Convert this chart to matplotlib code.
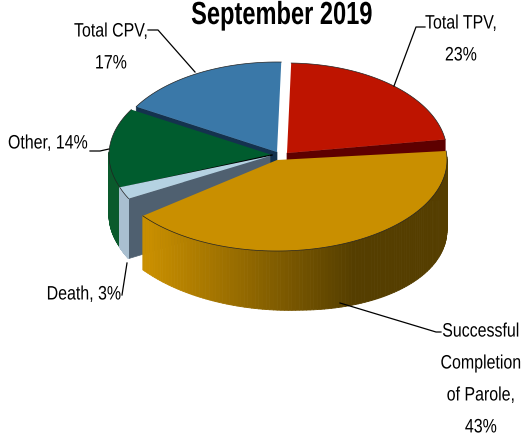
import numpy as np
import matplotlib
matplotlib.use('Agg')
import matplotlib.pyplot as plt
from matplotlib.collections import PolyCollection
from matplotlib.colors import to_rgb
from matplotlib.patheffects import AbstractPathEffect
from matplotlib.transforms import Affine2D

plt.rcParams['font.family'] = ['Liberation Sans', 'DejaVu Sans']

names = ['Total TPV', 'Successful Completion of Parole', 'Death', 'Other', 'Total CPV']
values = [23, 43, 3, 14, 17]

# look of each slice, same order as names
top_colors = ['#BE1400', '#C98F00', '#B5D2E2', '#005C2E', '#3A78A8']
side_colors = ['#8A0E00', '#C98F00', '#A9BFD0', '#0A5A2C', '#2A5A80']
face_colors = ['#5E0000', '#5E4300', '#4F6070', '#003018', '#14324E']
centers = [(287, 153), (277, 160), (270, 156), (272, 155), (277, 152)]
radii = [(160, 90), (170, 91), (160, 91), (163, 90), (163, 90)]
trim_start = [0, 0, 3, -1.5, 0]
trim_end = [3, 7, 0, 0, 0]
show_start_face = [False, False, True, False, True]
show_end_face = [True, False, False, False, False]
draw_order = [4, 0, 3, 2, 1]
depth = 60
start_angle = 88.5


class Squeeze(AbstractPathEffect):
    # narrows the glyphs, no condensed font is installed
    def __init__(self, x0, sx, dx=0):
        super().__init__()
        self.x0, self.sx, self.dx = x0, sx, dx

    def draw_path(self, renderer, gc, tpath, affine, rgbFace=None):
        squeeze = Affine2D().translate(-self.x0, 0).scale(self.sx, 1).translate(self.x0 + self.dx, 0)
        renderer.draw_path(gc, tpath, affine + squeeze, rgbFace)


fig = plt.figure(figsize=(5.27, 4.45), dpi=100)
ax = fig.add_axes([0, 0, 1, 1])
ax.set_xlim(0, 527)
ax.set_ylim(445, 0)
ax.axis('off')

sweeps = np.array(values) / sum(values) * 360
ends = start_angle - np.cumsum(sweeps)
starts = ends + sweeps


def arc(i, a0, a1, n=120):
    t = np.radians(np.linspace(a0, a1, n))
    cx, cy = centers[i]
    rx, ry = radii[i]
    return np.column_stack([cx + rx * np.cos(t), cy - ry * np.sin(t)])


def side_color(i, x):
    if i != 1:
        return to_rgb(side_colors[i])
    # the gold rim fades to brown going right
    t = np.clip((x - 150) / 205, 0, 1)
    a, b = np.array(to_rgb('#C98F00')), np.array(to_rgb('#553E00'))
    return tuple(a + (b - a) * t)


def rim_depth(i, x):
    # perspective: the gold rim gets taller to the right
    if i != 1:
        return depth
    return np.interp(x, [147, 300, 447], [54, 60, 70])


for i in draw_order:
    a0 = starts[i] - trim_start[i]
    a1 = ends[i] + trim_end[i]
    pts = arc(i, a0, a1)
    apex = np.array(centers[i], dtype=float)
    down = np.array([0, depth])
    # flat cut faces going down from the top
    if show_start_face[i]:
        p = pts[0]
        ax.fill(*np.array([apex, p, p + down, apex + down]).T, color=face_colors[i], lw=0.5, zorder=2)
    if show_end_face[i]:
        p = pts[-1]
        ax.fill(*np.array([apex, p, p + down, apex + down]).T, color=face_colors[i], lw=0.5, zorder=2)
    # outer rim, lower half only
    t = np.radians(np.linspace(a0, a1, 120))
    quads, cols = [], []
    for k in range(len(pts) - 1):
        if np.sin(t[k]) < 0.03 or np.sin(t[k + 1]) < 0.03:
            a, b = pts[k], pts[k + 1]
            da = np.array([0, rim_depth(i, a[0])])
            db = np.array([0, rim_depth(i, b[0])])
            quads.append([a, b, b + db, a + da])
            cols.append(side_color(i, a[0]))
    if quads:
        ax.add_collection(PolyCollection(quads, facecolors=cols, edgecolors=cols, linewidths=0.6, zorder=2))
    # top
    poly = np.vstack([apex, pts])
    ax.fill(poly[:, 0], poly[:, 1], color=top_colors[i], lw=0, zorder=2)
    ax.plot(pts[:, 0], pts[:, 1], color='#222222', lw=0.5, zorder=2)
    if i == 3:
        # thin black edge under the green slice
        ax.plot([apex[0], pts[0, 0]], [apex[1], pts[0, 1]], color='black', lw=1.0, zorder=2)

# leader lines
leader_color = 'black'
ax.plot([148, 158, 195], [30, 30, 72], color=leader_color, lw=0.9, zorder=3)
ax.plot([425, 416, 394], [27, 27, 86], color=leader_color, lw=0.9, zorder=3)
ax.plot([90, 100, 109], [151, 151, 149], color=leader_color, lw=0.9, zorder=3)
ax.plot([127, 122], [263, 295], color=leader_color, lw=0.9, zorder=3)
ax.plot([340, 436, 441], [303, 332, 332], color=leader_color, lw=0.9, zorder=3)


def label(x, y, s, size=14, sx=0.82, spacing=2.15, weight='normal', dx=0):
    ax.text(x, y, s, ha='center', va='center', fontsize=size, fontweight=weight,
            linespacing=spacing, path_effects=[Squeeze(x, sx, dx)])


# labels
label(282, 16, 'September 2019', size=23, sx=0.74, weight='bold')
label(111, 48, 'Total CPV,\n17%')
label(461, 40, 'Total TPV,\n23%')
label(49, 144, 'Other, 14%', dx=-1)
label(84, 295, 'Death, 3%')
label(478, 380, 'Successful\nCompletion\nof Parole,\n43%', dx=3)

fig.savefig('out.png', dpi=100)
